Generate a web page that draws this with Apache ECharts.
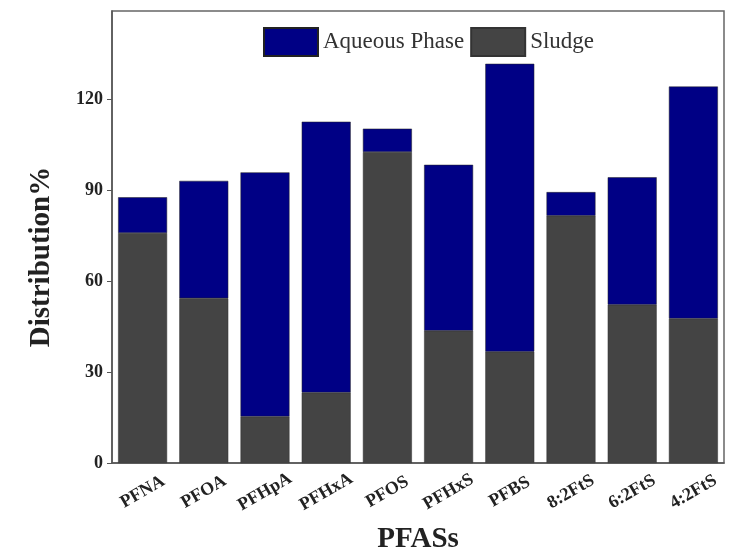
<!DOCTYPE html>
<html>
<head>
<meta charset="utf-8">
<script src="https://cdn.jsdelivr.net/npm/echarts@6/dist/echarts.min.js"></script>
<style>
html,body{margin:0;padding:0;background:#fff;}
#chart{width:731px;height:552px;}
</style>
</head>
<body>
<div id="chart"></div>
<script>
// categories and values (%)
var pfas = ['PFNA','PFOA','PFHpA','PFHxA','PFOS','PFHxS','PFBS','8:2FtS','6:2FtS','4:2FtS'];
var sludge = [75.8, 54.3, 15.3, 23.2, 102.5, 43.6, 36.7, 81.5, 52.2, 47.6];
var aqueous = [11.8, 38.7, 80.5, 89.3, 7.7, 54.7, 94.9, 7.8, 42.0, 76.5];

var serif = 'Liberation Serif';
var axisColor = '#555';

var myChart = echarts.init(document.getElementById('chart'));
myChart.setOption({
    animation: false,
    grid: {
        left: 112,
        right: 7,
        top: 11,
        bottom: 89,
        outerBoundsMode: 'none',
        show: true,
        borderColor: '#666',
        borderWidth: 1.5
    },
    legend: {
        data: ['Aqueous Phase', 'Sludge'],
        icon: 'rect',
        left: 258,
        top: 22,
        itemWidth: 54,
        itemHeight: 28,
        itemGap: 6,
        textStyle: {
            fontFamily: serif,
            fontSize: 23,
            color: '#333'
        }
    },
    xAxis: {
        type: 'category',
        data: pfas,
        name: 'PFASs',
        nameLocation: 'middle',
        nameGap: 62,
        nameTextStyle: {
            fontFamily: serif,
            fontSize: 29,
            fontWeight: 'bold',
            color: '#222'
        },
        axisLine: {lineStyle: {color: axisColor, width: 1.5}},
        axisTick: {show: false},
        axisLabel: {
            interval: 0,
            rotate: 30,
            align: 'center',
            verticalAlign: 'middle',
            margin: 29,
            fontFamily: serif,
            fontSize: 18,
            fontWeight: 'bold',
            color: '#222'
        }
    },
    yAxis: {
        type: 'value',
        min: 0,
        max: 149,
        interval: 30,
        name: 'Distribution%',
        nameLocation: 'middle',
        nameGap: 56,
        nameTextStyle: {
            fontFamily: serif,
            fontSize: 29,
            fontWeight: 'bold',
            color: '#222',
            padding: [0, 0, 0, -40]
        },
        splitLine: {show: false},
        axisLine: {show: true, lineStyle: {color: axisColor, width: 1.5}},
        axisTick: {show: true, length: 5, lineStyle: {color: axisColor}},
        axisLabel: {
            showMaxLabel: false,
            margin: 9,
            fontFamily: serif,
            fontSize: 18,
            fontWeight: 'bold',
            color: '#222'
        }
    },
    series: [{
        name: 'Sludge',
        type: 'bar',
        stack: 'total',
        barCategoryGap: '20%',
        itemStyle: {color: '#444444', borderColor: '#333', borderWidth: 0.5},
        data: sludge
    }, {
        name: 'Aqueous Phase',
        type: 'bar',
        stack: 'total',
        barCategoryGap: '20%',
        itemStyle: {color: '#000085', borderColor: '#222', borderWidth: 0.5},
        data: aqueous
    }]
});
</script>
</body>
</html>
